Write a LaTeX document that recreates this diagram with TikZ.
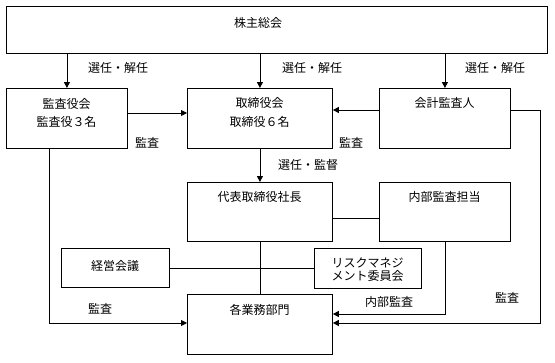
\documentclass[tikz,border=0pt]{standalone}
\usepackage{fontspec}
\newfontfamily\jp{Noto Sans CJK JP}
\usetikzlibrary{arrows.meta,calc}
\begin{document}
\begin{tikzpicture}[x=1pt,y=-1pt,
  every node/.style={font=\jp\fontsize{12}{13}\selectfont, inner sep=0pt},
  box/.style={draw, line width=0.85pt, anchor=north west, minimum width=#1},
  box/.default=145pt,
  ln/.style={line width=0.85pt},
  arr/.style={line width=0.85pt, -{Triangle[length=6pt,width=6pt]}},
  lbl/.style={anchor=center}
]
\useasboundingbox (0,0) rectangle (555,362);
% boxes
\node[box=541pt, minimum height=47pt] (top) at (6,6) {};
\node[box=121pt, minimum height=60pt] (kansa) at (6,88) {};
\node[box=145pt, minimum height=60pt] (tori) at (187,88) {};
\node[box=131pt, minimum height=60pt] (kaikei) at (379,88) {};
\node[box=145pt, minimum height=59pt] (daihyo) at (187,182) {};
\node[box=131pt, minimum height=59pt] (naibu) at (379,182) {};
\node[box=108pt, minimum height=39pt] (keiei) at (61,248) {};
\node[box=107pt, minimum height=40pt] (risk) at (314,248) {};
\node[box=145pt, minimum height=60pt] (gyomu) at (187,294) {};
% box texts
\node[lbl] (t-top) at (258,23) {株主総会};
\node[lbl] (t-kansa1) at (66.5,104) {監査役会};
\node[lbl] (t-kansa2) at (66.5,122) {監査役３名};
\node[lbl] (t-tori1) at (259.5,103) {取締役会};
\node[lbl] (t-tori2) at (259.5,122) {取締役６名};
\node[lbl] (t-kaikei) at (444.5,103) {会計監査人};
\node[lbl] (t-daihyo) at (259.5,197) {代表取締役社長};
\node[lbl] (t-naibu) at (444.5,197) {内部監査担当};
\node[lbl] (t-keiei) at (115,266) {経営会議};
\node[lbl, align=center] (t-risk) at (367.5,269.5) {リスクマネジ\\メント委員会};
\node[lbl] (t-gyomu) at (259.5,310) {各業務部門};
% connector labels
\node[lbl] (l1) at (118,68) {選任・解任};
\node[lbl] (l2) at (312,68) {選任・解任};
\node[lbl] (l3) at (495,68) {選任・解任};
\node[lbl] (l4) at (147,143) {監査};
\node[lbl] (l5) at (351,143) {監査};
\node[lbl] (l6) at (308,165) {選任・監督};
\node[lbl] (l7) at (100,309) {監査};
\node[lbl] (l8) at (389,302) {内部監査};
\node[lbl] (l9) at (507,298) {監査};
% connectors
\draw[arr] (top.south -| kansa.north) -- (kansa.north);
\draw[arr] (top.south -| tori.north) -- (tori.north);
\draw[arr] (top.south -| kaikei.north) -- (kaikei.north);
\draw[arr] ([yshift=-25pt]kansa.north east) -- ([yshift=-25pt]tori.north west);
\draw[arr] ([yshift=-22pt]kaikei.north west) -- ([yshift=-22pt]tori.north east);
\draw[arr] (tori.south) -- (daihyo.north);
\draw[ln] ([yshift=-36pt]daihyo.north east) -- ([yshift=-36pt]naibu.north west);
\draw[ln] (daihyo.south) -- (gyomu.north);
\draw[ln] (keiei.east) -- (keiei.east -| risk.west);
\draw[arr] ([xshift=-17.5pt]kansa.south) |- ([yshift=-29pt]gyomu.north west);
\draw[arr] (naibu.south) |- ([yshift=-20pt]gyomu.north east);
\coordinate (rc) at (540,110);
\draw[arr] ([yshift=-22pt]kaikei.north east) -- (rc) |- ([yshift=-29pt]gyomu.north east);
\end{tikzpicture}
\end{document}
